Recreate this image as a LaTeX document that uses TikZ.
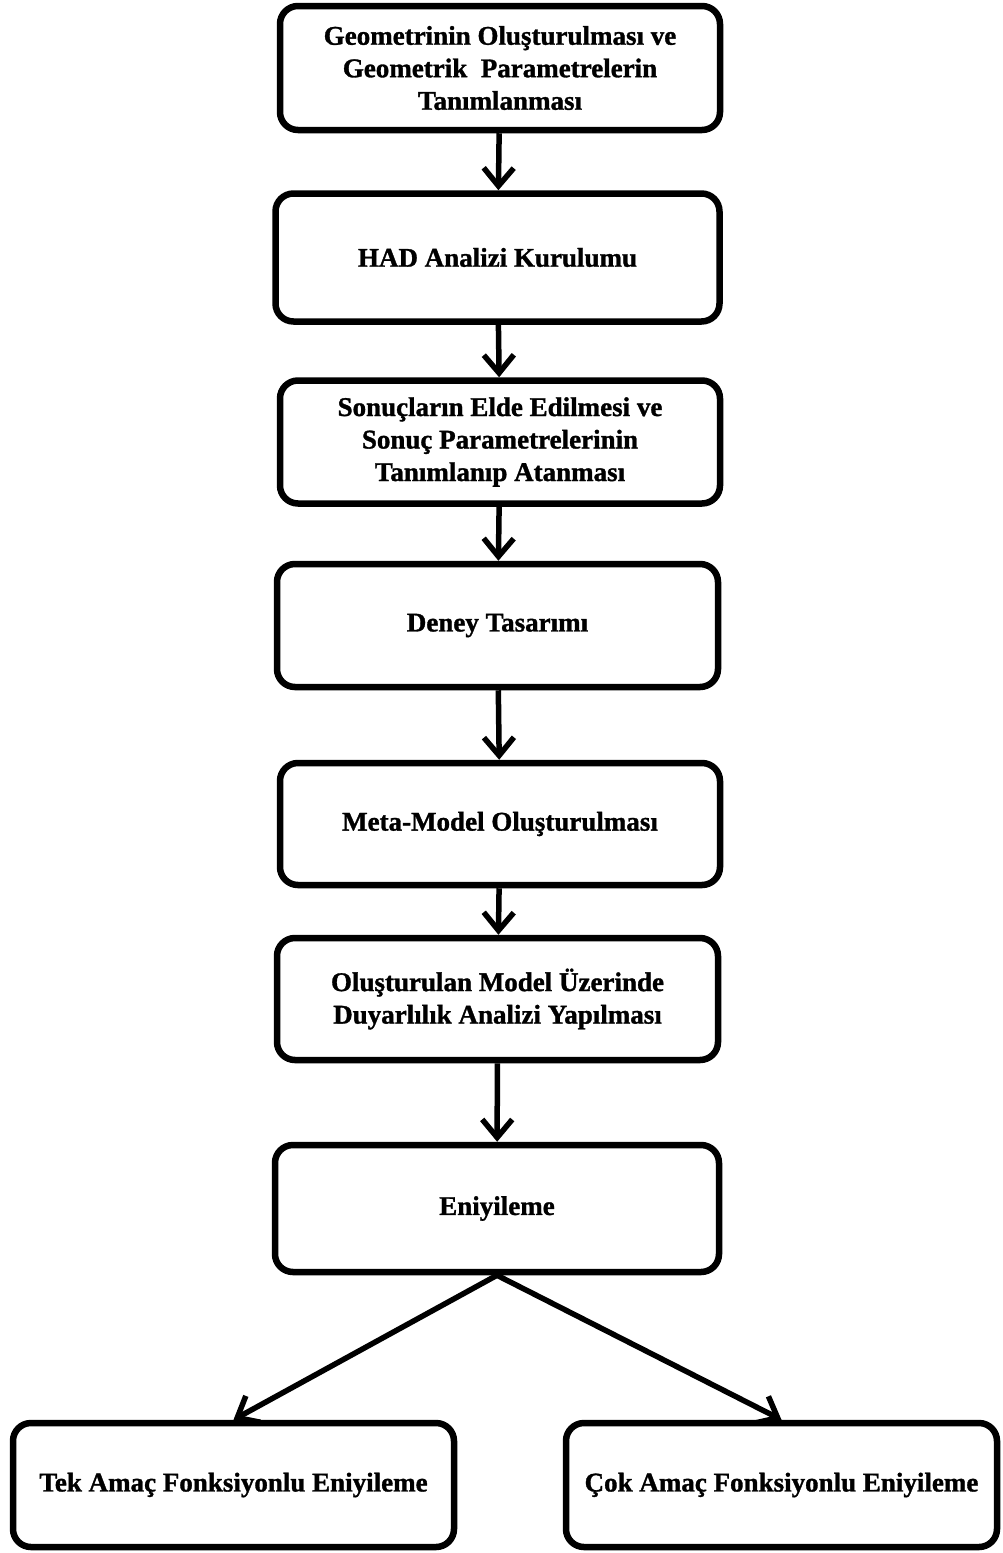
\documentclass[tikz,border=0pt]{standalone}
\usepackage{fontspec}
\setmainfont{Liberation Serif}[BoldFeatures={FakeBold=1.2}]
\usetikzlibrary{arrows.meta}
\begin{document}
\begin{tikzpicture}[x=1pt,y=-1pt,
  box/.style={draw=black, line width=6.5pt, rounded corners=18pt, fill=white,
    align=center, inner sep=0pt,
    font=\fontsize{27}{32.5}\selectfont\bfseries},
  arr/.style={line width=5.5pt, -{Straight Barb[length=18pt,width=30pt,line width=5.5pt]}}]
\useasboundingbox (0,0) rectangle (1003,1553);
\node[box, minimum width=440pt, minimum height=124pt] (B1) at (500,68)
  {Geometrinin Oluşturulması ve\\Geometrik\ \ Parametrelerin\\Tanımlanması};
\node[box, minimum width=444pt, minimum height=128pt] (B2) at (497.5,257.5)
  {HAD Analizi Kurulumu};
\node[box, minimum width=440pt, minimum height=123pt] (B3) at (500,442)
  {Sonuçların Elde Edilmesi ve\\Sonuç Parametrelerinin\\Tanımlanıp Atanması};
\node[box, minimum width=441pt, minimum height=123pt] (B4) at (497.5,625.5)
  {Deney Tasarımı};
\node[box, minimum width=440pt, minimum height=122pt] (B5) at (500,824)
  {Meta-Model Oluşturulması};
\node[box, minimum width=441pt, minimum height=122pt] (B6) at (497.5,999)
  {Oluşturulan Model Üzerinde\\Duyarlılık Analizi Yapılması};
\node[box, minimum width=444pt, minimum height=127pt] (B7) at (497,1208.5)
  {Eniyileme};
\node[box, minimum width=441pt, minimum height=124pt] (B8) at (233.5,1485)
  {Tek Amaç Fonksiyonlu Eniyileme};
\node[box, minimum width=431pt, minimum height=124pt] (B9) at (781.5,1485)
  {Çok Amaç Fonksiyonlu Eniyileme};
\draw[arr] (B1) -- (B2);
\draw[arr] (B2) -- (B3);
\draw[arr] (B3) -- (B4);
\draw[arr] (B4) -- (B5);
\draw[arr] (B5) -- (B6);
\draw[arr] (B6) -- (B7);
\draw[arr] (B7.south) -- (B8.north);
\draw[arr] (B7.south) -- (B9.north);
\end{tikzpicture}
\end{document}
